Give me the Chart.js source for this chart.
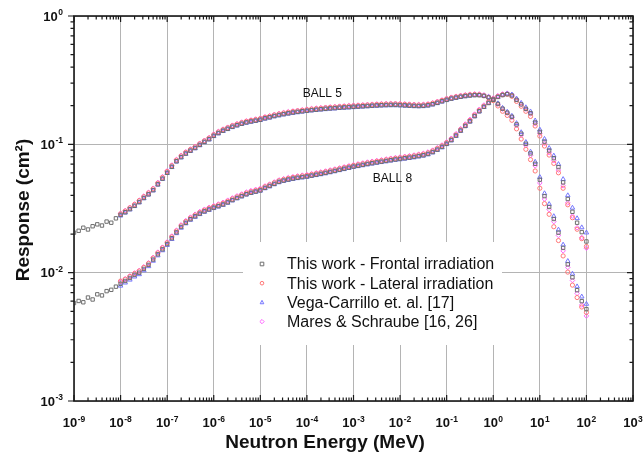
<!DOCTYPE html>
<html>
<head>
<meta charset="utf-8">
<title>Bonner sphere response</title>
<script src="https://cdn.jsdelivr.net/npm/chart.js"></script>
<style>
  html, body { margin: 0; padding: 0; background: #fff; }
  canvas { display: block; }
</style>
</head>
<body>
<canvas id="respChart" width="644" height="462"></canvas>
<script>
// energy grid, log10(E / MeV)
const energyExp = [
  -9.0, -8.9, -8.8, -8.7, -8.6, -8.5, -8.4, -8.3, -8.2, -8.1,
  -8.0, -7.9, -7.8, -7.7, -7.6, -7.5, -7.4, -7.3, -7.2, -7.1,
  -7.0, -6.9, -6.8, -6.7, -6.6, -6.5, -6.4, -6.3, -6.2, -6.1,
  -6.0, -5.9, -5.8, -5.7, -5.6, -5.5, -5.4, -5.3, -5.2, -5.1,
  -5.0, -4.9, -4.8, -4.7, -4.6, -4.5, -4.4, -4.3, -4.2, -4.1,
  -4.0, -3.9, -3.8, -3.7, -3.6, -3.5, -3.4, -3.3, -3.2, -3.1,
  -3.0, -2.9, -2.8, -2.7, -2.6, -2.5, -2.4, -2.3, -2.2, -2.1,
  -2.0, -1.9, -1.8, -1.7, -1.6, -1.5, -1.4, -1.3, -1.2, -1.1,
  -1.0, -0.9, -0.8, -0.7, -0.6, -0.5, -0.4, -0.3, -0.2, -0.1,
  0.0, 0.1, 0.2, 0.3, 0.4, 0.5, 0.6, 0.7, 0.8, 0.9,
  1.0, 1.1, 1.2, 1.3, 1.4, 1.5, 1.6, 1.7, 1.8, 1.9,
  2.0
];
// the other data sets start at 1e-8 MeV
const energyExpShort = energyExp.slice(10);

// BALL 5 responses (cm2)
const frontal5 = [
  0.0205, 0.0212, 0.0224, 0.0217, 0.0230, 0.0238, 0.0233, 0.0250, 0.0245, 0.0265,
  0.0282, 0.0296, 0.0313, 0.0332, 0.0355, 0.0382, 0.0408, 0.0440, 0.0488, 0.0540,
  0.0600, 0.0668, 0.0738, 0.0795, 0.0848, 0.0893, 0.0937, 0.0990, 0.1045, 0.1098,
  0.1165, 0.1225, 0.1278, 0.1322, 0.1370, 0.1410, 0.1448, 0.1482, 0.1508, 0.1530,
  0.1555, 0.1595, 0.1625, 0.1662, 0.1692, 0.1720, 0.1745, 0.1770, 0.1790, 0.1810,
  0.1828, 0.1848, 0.1862, 0.1878, 0.1892, 0.1905, 0.1916, 0.1930, 0.1940, 0.1950,
  0.1960, 0.1970, 0.1980, 0.1990, 0.2000, 0.2010, 0.2018, 0.2024, 0.2028, 0.2028,
  0.2022, 0.2012, 0.2002, 0.1994, 0.1990, 0.1995, 0.2015, 0.2055, 0.2105, 0.2165,
  0.2222, 0.2272, 0.2312, 0.2348, 0.2378, 0.2402, 0.2418, 0.2415, 0.2385, 0.2320,
  0.2225, 0.2065, 0.1895, 0.1765, 0.1640, 0.1430, 0.1210, 0.1010, 0.0850, 0.0705,
  0.0530, 0.0395, 0.0325, 0.0262, 0.0205, 0.0156, 0.0116, 0.0092, 0.0073, 0.0060,
  0.0052
];
const lateral5 = [
  0.0287, 0.0302, 0.0320, 0.0340, 0.0364, 0.0391, 0.0418, 0.0450, 0.0498, 0.0552,
  0.0614, 0.0682, 0.0753, 0.0812, 0.0866, 0.0911, 0.0955, 0.1010, 0.1064, 0.1118,
  0.1188, 0.1248, 0.1302, 0.1347, 0.1396, 0.1436, 0.1475, 0.1510, 0.1535, 0.1560,
  0.1585, 0.1625, 0.1655, 0.1693, 0.1723, 0.1752, 0.1778, 0.1802, 0.1822, 0.1842,
  0.1862, 0.1881, 0.1896, 0.1911, 0.1926, 0.1940, 0.1951, 0.1965, 0.1975, 0.1985,
  0.1995, 0.2005, 0.2015, 0.2025, 0.2035, 0.2045, 0.2054, 0.2060, 0.2064, 0.2064,
  0.2058, 0.2048, 0.2038, 0.2029, 0.2024, 0.2029, 0.2049, 0.2089, 0.2139, 0.2199,
  0.2258, 0.2307, 0.2346, 0.2380, 0.2409, 0.2432, 0.2445, 0.2436, 0.2390, 0.2310,
  0.2190, 0.1990, 0.1810, 0.1680, 0.1540, 0.1320, 0.1100, 0.0915, 0.0760, 0.0620,
  0.0455, 0.0345, 0.0285, 0.0228, 0.0178, 0.0135, 0.0101, 0.0080, 0.0064, 0.0054,
  0.0049
];
const vega5 = [
  0.0278, 0.0293, 0.0310, 0.0329, 0.0352, 0.0379, 0.0405, 0.0436, 0.0484, 0.0536,
  0.0596, 0.0663, 0.0732, 0.0789, 0.0841, 0.0885, 0.0929, 0.0981, 0.1035, 0.1088,
  0.1155, 0.1213, 0.1266, 0.1310, 0.1357, 0.1397, 0.1435, 0.1468, 0.1494, 0.1517,
  0.1541, 0.1580, 0.1610, 0.1647, 0.1676, 0.1704, 0.1729, 0.1753, 0.1773, 0.1792,
  0.1811, 0.1830, 0.1845, 0.1860, 0.1874, 0.1888, 0.1898, 0.1912, 0.1922, 0.1932,
  0.1942, 0.1952, 0.1962, 0.1972, 0.1981, 0.1991, 0.2000, 0.2006, 0.2010, 0.2010,
  0.2005, 0.1995, 0.1986, 0.1977, 0.1973, 0.1978, 0.1998, 0.2038, 0.2088, 0.2147,
  0.2205, 0.2256, 0.2297, 0.2333, 0.2364, 0.2390, 0.2408, 0.2410, 0.2385, 0.2330,
  0.2240, 0.2085, 0.1920, 0.1790, 0.1665, 0.1460, 0.1240, 0.1040, 0.0875, 0.0730,
  0.0555, 0.0415, 0.0342, 0.0275, 0.0216, 0.0165, 0.0123, 0.0098, 0.0078, 0.0065,
  0.0057
];
const mares5 = [
  0.0290, 0.0305, 0.0323, 0.0343, 0.0367, 0.0395, 0.0422, 0.0455, 0.0505, 0.0560,
  0.0622, 0.0690, 0.0762, 0.0820, 0.0875, 0.0920, 0.0965, 0.1020, 0.1075, 0.1130,
  0.1200, 0.1260, 0.1315, 0.1360, 0.1410, 0.1450, 0.1490, 0.1525, 0.1550, 0.1575,
  0.1600, 0.1640, 0.1670, 0.1710, 0.1740, 0.1770, 0.1795, 0.1820, 0.1840, 0.1860,
  0.1880, 0.1900, 0.1915, 0.1930, 0.1945, 0.1960, 0.1970, 0.1985, 0.1995, 0.2005,
  0.2015, 0.2025, 0.2035, 0.2045, 0.2055, 0.2065, 0.2075, 0.2080, 0.2085, 0.2085,
  0.2080, 0.2070, 0.2060, 0.2050, 0.2045, 0.2050, 0.2070, 0.2110, 0.2160, 0.2220,
  0.2280, 0.2330, 0.2370, 0.2405, 0.2435, 0.2460, 0.2475, 0.2470, 0.2430, 0.2360,
  0.2250, 0.2060, 0.1880, 0.1750, 0.1620, 0.1400, 0.1180, 0.0980, 0.0820, 0.0680,
  0.0500, 0.0375, 0.0310, 0.0250, 0.0195, 0.0148, 0.0110, 0.0087, 0.0069, 0.0056,
  0.0046
];

// BALL 8 responses (cm2)
const frontal8 = [
  0.00580, 0.00602, 0.00588, 0.00640, 0.00618, 0.00678, 0.00665, 0.00718, 0.00735, 0.00778,
  0.00820, 0.00862, 0.00910, 0.00960, 0.01000, 0.01070, 0.01150, 0.01265, 0.01390, 0.01520,
  0.01670, 0.01855, 0.02060, 0.02270, 0.02450, 0.02610, 0.02750, 0.02885, 0.03005, 0.03110,
  0.03210, 0.03300, 0.03400, 0.03530, 0.03680, 0.03820, 0.03950, 0.04085, 0.04195, 0.04285,
  0.04375, 0.04580, 0.04740, 0.04920, 0.05100, 0.05220, 0.05320, 0.05410, 0.05490, 0.05560,
  0.05620, 0.05710, 0.05800, 0.05890, 0.05990, 0.06100, 0.06210, 0.06335, 0.06455, 0.06580,
  0.06710, 0.06810, 0.06920, 0.07030, 0.07130, 0.07230, 0.07325, 0.07425, 0.07525, 0.07620,
  0.07700, 0.07790, 0.07880, 0.07980, 0.08100, 0.08220, 0.08420, 0.08710, 0.09100, 0.09550,
  0.10100, 0.10800, 0.11700, 0.12800, 0.13900, 0.15100, 0.16600, 0.18100, 0.19600, 0.21000,
  0.22300, 0.23400, 0.24200, 0.24600, 0.24000, 0.22200, 0.20500, 0.18900, 0.17500, 0.14800,
  0.12500, 0.10500, 0.08950, 0.07800, 0.06650, 0.05050, 0.03750, 0.02980, 0.02450, 0.02070,
  0.01750
];
const lateral8 = [
  0.00860, 0.00890, 0.00935, 0.00985, 0.01030, 0.01100, 0.01180, 0.01300, 0.01425, 0.01560,
  0.01710, 0.01900, 0.02110, 0.02320, 0.02505, 0.02665, 0.02810, 0.02945, 0.03065, 0.03175,
  0.03275, 0.03370, 0.03470, 0.03600, 0.03755, 0.03895, 0.04030, 0.04165, 0.04280, 0.04370,
  0.04460, 0.04670, 0.04835, 0.05020, 0.05200, 0.05325, 0.05425, 0.05520, 0.05600, 0.05670,
  0.05730, 0.05825, 0.05915, 0.06010, 0.06110, 0.06220, 0.06335, 0.06460, 0.06585, 0.06710,
  0.06845, 0.06945, 0.07055, 0.07170, 0.07270, 0.07375, 0.07470, 0.07575, 0.07675, 0.07770,
  0.07855, 0.07945, 0.08035, 0.08140, 0.08260, 0.08385, 0.08585, 0.08885, 0.09280, 0.09740,
  0.10300, 0.10950, 0.11850, 0.13000, 0.14150, 0.15350, 0.16900, 0.18400, 0.19850, 0.21300,
  0.22600, 0.23600, 0.24350, 0.24550, 0.23650, 0.21600, 0.19800, 0.18100, 0.16500, 0.13900,
  0.11600, 0.09700, 0.08250, 0.07100, 0.06000, 0.04550, 0.03380, 0.02680, 0.02180, 0.01840,
  0.01600
];
const vega8 = [
  0.00790, 0.00835, 0.00880, 0.00930, 0.00970, 0.01040, 0.01120, 0.01235, 0.01360, 0.01490,
  0.01640, 0.01825, 0.02025, 0.02235, 0.02415, 0.02575, 0.02715, 0.02850, 0.02970, 0.03075,
  0.03175, 0.03265, 0.03365, 0.03495, 0.03645, 0.03785, 0.03915, 0.04050, 0.04160, 0.04250,
  0.04340, 0.04535, 0.04690, 0.04870, 0.05050, 0.05170, 0.05265, 0.05355, 0.05435, 0.05505,
  0.05565, 0.05655, 0.05740, 0.05830, 0.05930, 0.06040, 0.06150, 0.06270, 0.06390, 0.06515,
  0.06645, 0.06740, 0.06850, 0.06960, 0.07060, 0.07160, 0.07250, 0.07350, 0.07450, 0.07545,
  0.07625, 0.07710, 0.07800, 0.07900, 0.08020, 0.08140, 0.08335, 0.08625, 0.09010, 0.09455,
  0.10000, 0.10700, 0.11600, 0.12700, 0.13850, 0.15000, 0.16500, 0.18000, 0.19500, 0.20900,
  0.22200, 0.23350, 0.24250, 0.24800, 0.24400, 0.22700, 0.21000, 0.19400, 0.18000, 0.15300,
  0.13000, 0.11000, 0.09350, 0.08150, 0.07000, 0.05350, 0.04000, 0.03200, 0.02650, 0.02250,
  0.02050
];
const mares8 = [
  0.00850, 0.00895, 0.00945, 0.00995, 0.01040, 0.01110, 0.01195, 0.01315, 0.01445, 0.01580,
  0.01735, 0.01930, 0.02140, 0.02360, 0.02545, 0.02710, 0.02855, 0.02995, 0.03120, 0.03230,
  0.03335, 0.03430, 0.03535, 0.03670, 0.03825, 0.03970, 0.04105, 0.04245, 0.04360, 0.04455,
  0.04545, 0.04740, 0.04905, 0.05090, 0.05280, 0.05400, 0.05505, 0.05600, 0.05680, 0.05755,
  0.05815, 0.05910, 0.06005, 0.06095, 0.06200, 0.06315, 0.06425, 0.06555, 0.06680, 0.06810,
  0.06945, 0.07050, 0.07160, 0.07275, 0.07380, 0.07485, 0.07580, 0.07685, 0.07790, 0.07885,
  0.07970, 0.08060, 0.08155, 0.08260, 0.08385, 0.08510, 0.08715, 0.09015, 0.09420, 0.09885,
  0.10450, 0.11150, 0.12100, 0.13250, 0.14400, 0.15650, 0.17200, 0.18750, 0.20250, 0.21700,
  0.22950, 0.23950, 0.24700, 0.25050, 0.24350, 0.22350, 0.20500, 0.18800, 0.17300, 0.14500,
  0.12150, 0.10150, 0.08600, 0.07450, 0.06300, 0.04750, 0.03500, 0.02760, 0.02240, 0.01880,
  0.01550
];

// axis decades (exponents) and text
const xTickExp = [-9, -8, -7, -6, -5, -4, -3, -2, -1, 0, 1, 2, 3];
const yTickExp = [-3, -2, -1, 0];
const seriesNames = [
  "This work - Frontal irradiation",
  "This work - Lateral irradiation",
  "Vega-Carrillo et. al. [17]",
  "Mares & Schraube [16, 26]"
];
const seriesColors = ["#6e6e6e", "#ff7676", "#7676ff", "#ff66ff"];
const seriesMarkers = ["rect", "circle", "triangle", "rectRot"];
const curveLabels = [
  { text: "BALL 5", x: 8.1e-5, y: 0.234 },
  { text: "BALL 8", x: 2.6e-3, y: 0.0508 }
];

const FONT = '"Liberation Sans", Arial, Helvetica, sans-serif';

function toPoints(exps, vals) {
  return vals.map((v, i) => ({ x: Math.pow(10, exps[i]), y: v }));
}

function makeSet(idx, exps, vals) {
  const radius = [2.4, 2.1, 2.6, 2.3];
  return {
    label: seriesNames[idx],
    data: toPoints(exps, vals),
    showLine: false,
    pointStyle: seriesMarkers[idx],
    pointRadius: radius[idx],
    pointBorderWidth: 1,
    pointBorderColor: seriesColors[idx],
    pointBackgroundColor: "rgba(0,0,0,0)",
  };
}

const datasets = [
  makeSet(0, energyExp, frontal5),
  makeSet(0, energyExp, frontal8),
  makeSet(1, energyExpShort, lateral5),
  makeSet(1, energyExpShort, lateral8),
  makeSet(2, energyExpShort, vega5),
  makeSet(2, energyExpShort, vega8),
  makeSet(3, energyExpShort, mares5),
  makeSet(3, energyExpShort, mares8),
];

// small open marker for the legend
function drawMarker(ctx, style, x, y, r) {
  ctx.beginPath();
  if (style === "rect") {
    ctx.rect(x - r, y - r, 2 * r, 2 * r);
  } else if (style === "circle") {
    ctx.arc(x, y, r, 0, Math.PI * 2);
  } else if (style === "triangle") {
    ctx.moveTo(x, y - r * 1.15);
    ctx.lineTo(x + r, y + r * 0.75);
    ctx.lineTo(x - r, y + r * 0.75);
    ctx.closePath();
  } else {
    ctx.moveTo(x, y - r * 1.2);
    ctx.lineTo(x + r * 1.2, y);
    ctx.lineTo(x, y + r * 1.2);
    ctx.lineTo(x - r * 1.2, y);
    ctx.closePath();
  }
  ctx.stroke();
}

// "10" with a raised exponent
function drawPow(ctx, exp, x, y, align) {
  const base = "bold 13px " + FONT;
  const sup = "bold 8.5px " + FONT;
  const txt = exp < 0 ? "-" + Math.abs(exp) : String(exp);
  ctx.font = base;
  const wb = ctx.measureText("10").width;
  ctx.font = sup;
  const we = ctx.measureText(txt).width;
  const total = wb + we + 0.5;
  const left = align === "right" ? x - total : x - total / 2;
  ctx.textAlign = "left";
  ctx.textBaseline = "alphabetic";
  ctx.font = base;
  ctx.fillText("10", left, y);
  ctx.font = sup;
  ctx.fillText(txt, left + wb + 0.5, y - 5.5);
}

const legendBox = {
  id: "legendBox",
  beforeDatasetsDraw(chart) {
    const { ctx, chartArea: a } = chart;
    ctx.save();
    ctx.fillStyle = "#fff";
    ctx.fillRect(a.left + 169, a.top + 226, 259, 103);
    ctx.restore();
  },
  afterDraw(chart) {
    const { ctx, chartArea: a } = chart;
    const xs = chart.scales.x, ys = chart.scales.y;
    ctx.save();

    // legend entries
    ctx.lineWidth = 1;
    seriesNames.forEach((name, i) => {
      const cy = a.top + 248 + i * 19.2;
      ctx.strokeStyle = seriesColors[i];
      drawMarker(ctx, seriesMarkers[i], a.left + 188, cy, 1.8);
      ctx.fillStyle = "#111";
      ctx.font = "16px " + FONT;
      ctx.textAlign = "left";
      ctx.textBaseline = "middle";
      ctx.fillText(name, a.left + 213, cy + 1);
    });

    // curve names
    ctx.font = "12px " + FONT;
    ctx.fillStyle = "#111";
    ctx.textAlign = "left";
    ctx.textBaseline = "alphabetic";
    curveLabels.forEach((c) => {
      ctx.fillText(c.text, xs.getPixelForValue(c.x), ys.getPixelForValue(c.y));
    });

    // frame and ticks
    ctx.strokeStyle = "#1a1a1a";
    ctx.lineWidth = 1.6;
    ctx.strokeRect(a.left, a.top, a.right - a.left, a.bottom - a.top);
    ctx.lineWidth = 1.2;
    ctx.beginPath();
    xTickExp.forEach((k, n) => {
      const px = xs.getPixelForValue(Math.pow(10, k));
      ctx.moveTo(px, a.bottom); ctx.lineTo(px, a.bottom - 6);
      ctx.moveTo(px, a.top); ctx.lineTo(px, a.top + 6);
      if (n < xTickExp.length - 1) {
        for (let m = 2; m <= 9; m++) {
          const q = xs.getPixelForValue(m * Math.pow(10, k));
          ctx.moveTo(q, a.bottom); ctx.lineTo(q, a.bottom - 3.5);
          ctx.moveTo(q, a.top); ctx.lineTo(q, a.top + 3.5);
        }
      }
    });
    yTickExp.forEach((k, n) => {
      const py = ys.getPixelForValue(Math.pow(10, k));
      ctx.moveTo(a.left, py); ctx.lineTo(a.left - 6, py);
      ctx.moveTo(a.right, py); ctx.lineTo(a.right - 6, py);
      if (n < yTickExp.length - 1) {
        for (let m = 2; m <= 9; m++) {
          const q = ys.getPixelForValue(m * Math.pow(10, k));
          ctx.moveTo(a.left, q); ctx.lineTo(a.left - 3.5, q);
          ctx.moveTo(a.right, q); ctx.lineTo(a.right - 3.5, q);
        }
      }
    });
    ctx.stroke();

    // tick labels
    ctx.fillStyle = "#111";
    xTickExp.forEach((k) => {
      drawPow(ctx, k, xs.getPixelForValue(Math.pow(10, k)), a.bottom + 26, "center");
    });
    yTickExp.forEach((k) => {
      drawPow(ctx, k, a.left - 11, ys.getPixelForValue(Math.pow(10, k)) + 4.5, "right");
    });

    // axis titles
    ctx.font = "bold 19px " + FONT;
    ctx.textAlign = "center";
    ctx.textBaseline = "alphabetic";
    ctx.fillText("Neutron Energy (MeV)", 325, a.bottom + 47);
    ctx.translate(29, 210);
    ctx.rotate(-Math.PI / 2);
    ctx.fillText("Response (cm\u00B2)", 0, 0);

    ctx.restore();
  }
};

new Chart(document.getElementById("respChart"), {
  type: "scatter",
  data: { datasets: datasets },
  options: {
    responsive: false,
    animation: false,
    devicePixelRatio: 1,
    layout: { padding: { left: 74, right: 11, top: 16, bottom: 61 } },
    plugins: {
      legend: { display: false },
      tooltip: { enabled: false },
    },
    scales: {
      x: {
        type: "logarithmic",
        min: 1e-9,
        max: 1e3,
        afterBuildTicks: (s) => { s.ticks = xTickExp.map((k) => ({ value: Math.pow(10, k) })); },
        ticks: { display: false },
        grid: { color: "#b4b4b4", lineWidth: 1, drawTicks: false },
        border: { display: false },
      },
      y: {
        type: "logarithmic",
        min: 1e-3,
        max: 1,
        afterBuildTicks: (s) => { s.ticks = yTickExp.map((k) => ({ value: Math.pow(10, k) })); },
        ticks: { display: false },
        grid: { color: "#b4b4b4", lineWidth: 1, drawTicks: false },
        border: { display: false },
      },
    },
  },
  plugins: [legendBox],
});
</script>
</body>
</html>
